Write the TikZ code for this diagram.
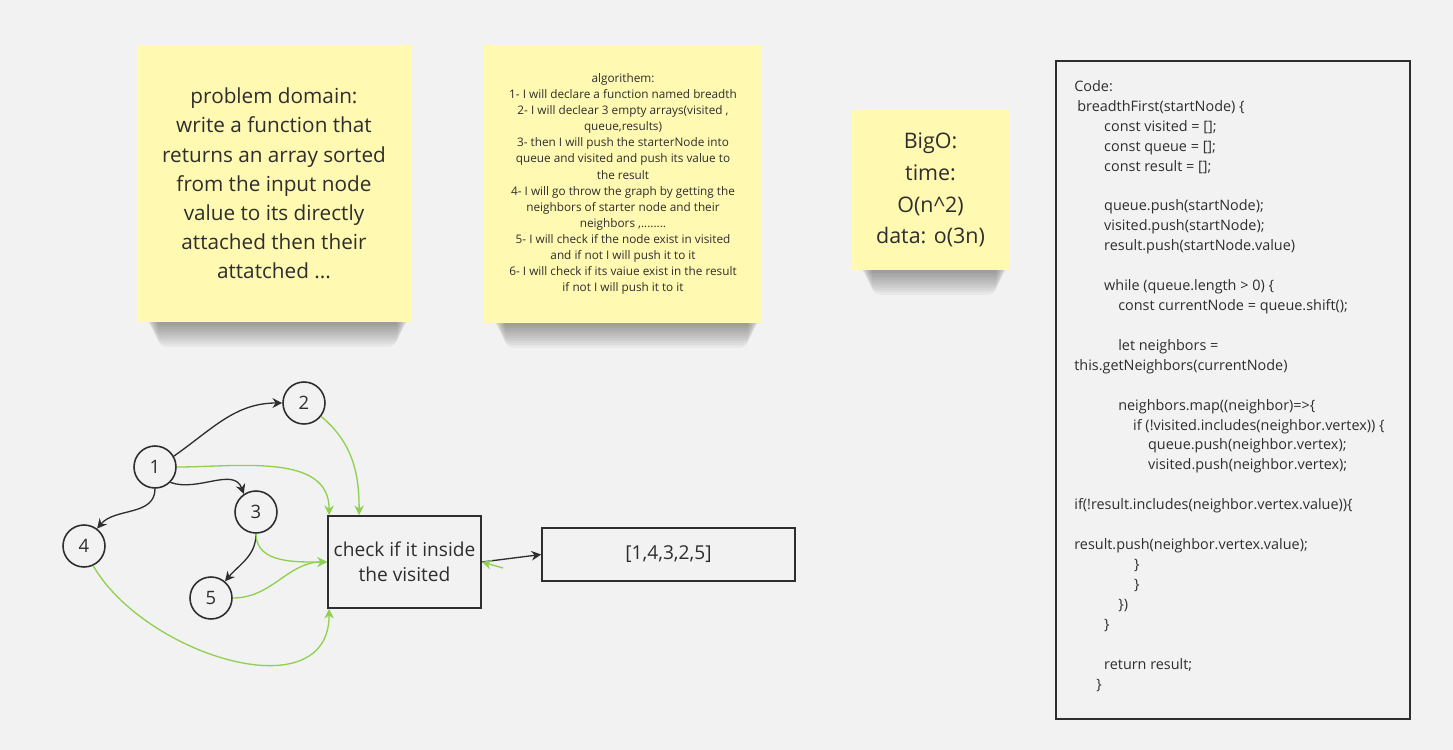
\documentclass[tikz,border=0pt]{standalone}
\usepackage{fontspec}
\setmainfont{Open Sans}
\usetikzlibrary{arrows.meta,backgrounds}
\definecolor{board}{HTML}{F2F2F2}
\definecolor{note}{HTML}{FFF9B1}
\definecolor{ink}{HTML}{2E2E2E}
\definecolor{leaf}{HTML}{8FD14F}

\begin{document}
\begin{tikzpicture}[x=0.02cm, y=-0.02cm,
        sticky/.style={rectangle, fill=note, inner sep=0pt, align=center, text=ink},
        vert/.style={circle, draw=ink, line width=0.9pt, minimum size=0.84cm, inner sep=0pt, font=\fontsize{10.5}{12}\selectfont, text=ink},
        boxed/.style={rectangle, draw=ink, line width=1pt, align=center, text=ink, inner sep=0pt},
        blk/.style={draw=ink, line width=0.75pt, -{Stealth[length=5.5pt,width=5.5pt]}},
        grn/.style={draw=leaf, line width=0.75pt, -{Stealth[length=5.5pt,width=5.5pt]}}
    ]
        \useasboundingbox (0,0) rectangle (1453,750);

        % Sticky notes
        \node[sticky, minimum width=5.48cm, minimum height=5.54cm, font=\fontsize{11.8}{16.6}\selectfont] (dom) at (274,183.5)
            {problem domain:\\write a function that\\returns an array sorted\\from the input node\\value to its directly\\attached then their\\attatched ...};
        \node[sticky, minimum width=5.56cm, minimum height=5.56cm, font=\fontsize{6.7}{9.15}\selectfont] (alg) at (623,184)
            {algorithem:\\1- I will declare a function named breadth\\2- I will declear 3 empty arrays(visited ,\\queue,results)\\3- then I will push the starterNode into\\queue and visited and push its value to\\the result\\4- I will go throw the graph by getting the\\neighbors of starter node and their\\neighbors ,........\\5- I will check if the node exist in visited\\and if not I will push it to it\\6- I will check if its vaiue exist in the result\\if not I will push it to it};
        \node[sticky, minimum width=3.18cm, minimum height=3.2cm, font=\fontsize{12.2}{18.1}\selectfont] (bigo) at (930.5,190)
            {BigO:\\time:\\O(n\textasciicircum2)\\data: o(3n)};

        % Code
        \node[boxed, fill=board, minimum width=7.08cm, minimum height=13.16cm] (codebox) at (1233,390) {};
        \node[anchor=north west, inner sep=0pt, align=left, text=ink, font=\fontsize{8.2}{11.34}\selectfont] (codetxt) at (1074,80)
            {Code:\\
            \hspace*{1.7pt}breadthFirst(startNode) \{\\
            \hspace*{17pt}const visited = [];\\
            \hspace*{17pt}const queue = [];\\
            \hspace*{17pt}const result = [];\\
            \mbox{}\\
            \hspace*{17pt}queue.push(startNode);\\
            \hspace*{17pt}visited.push(startNode);\\
            \hspace*{17pt}result.push(startNode.value)\\
            \mbox{}\\
            \hspace*{17pt}while (queue.length > 0) \{\\
            \hspace*{25pt}const currentNode = queue.shift();\\
            \mbox{}\\
            \hspace*{25pt}let neighbors =\\
            this.getNeighbors(currentNode)\\
            \mbox{}\\
            \hspace*{25pt}neighbors.map((neighbor)=>\{\\
            \hspace*{33.5pt}if (!visited.includes(neighbor.vertex)) \{\\
            \hspace*{42pt}queue.push(neighbor.vertex);\\
            \hspace*{42pt}visited.push(neighbor.vertex);\\
            \mbox{}\\
            if(!result.includes(neighbor.vertex.value))\{\\
            \mbox{}\\
            result.push(neighbor.vertex.value);\\
            \hspace*{34pt}\}\\
            \hspace*{34pt}\}\\
            \hspace*{25pt}\})\\
            \hspace*{17pt}\}\\
            \mbox{}\\
            \hspace*{17pt}return result;\\
            \hspace*{12.5pt}\}};

        % Graph
        \node[vert] (n1) at (155,467) {1};
        \node[vert] (n2) at (304,403) {2};
        \node[vert] (n3) at (256,512) {3};
        \node[vert] (n4) at (84,546) {4};
        \node[vert] (n5) at (211,598) {5};

        \node[boxed, minimum width=3.06cm, minimum height=1.84cm, font=\fontsize{10.9}{14.2}\selectfont] (chk) at (404.5,562) {check if it inside\\the visited};
        \node[boxed, minimum width=5.06cm, minimum height=1.06cm, font=\fontsize{10.9}{12}\selectfont] (res) at (668.5,554.5) {[1,4,3,2,5]};
        \coordinate (stub) at (503,568);

        % Connections
        \draw[blk] (n1.30) to[out=35, in=180] (n2.west);
        \draw[blk] (n1.-45) to[out=-20, in=110] (n3.124);
        \draw[blk] (n1.south) to[out=-90, in=50] (n4.53);
        \draw[blk] (n3.south) to[out=-90, in=50] (n5.50);

        \draw[grn] (n2.-38) to[out=-40, in=90] ([xshift=0.64cm]chk.north west);
        \draw[grn] (n1.east) to[out=0, in=90] ([xshift=0.04cm]chk.north west);
        \draw[grn] (n3.south) to[out=-90, in=180] (chk.west);
        \draw[grn] (n5.east) to[out=0, in=180] (chk.west);
        \draw[grn] (n4.-65) to[out=-60, in=-90, looseness=1.1] ([xshift=0.04cm]chk.south west);

        \draw[blk] (chk.east) -- (res.west);
        \draw[grn] (stub) -- (chk.east);

        % Board and shadows
        \begin{scope}[on background layer]
            \fill[board] (0,0) rectangle (1453,750);
            \foreach \s in {dom,alg,bigo}
                \foreach \k in {1,...,10}
                    \fill[black, opacity=0.04, rounded corners=5pt] ([xshift=5pt+\k*0.7pt, yshift=4pt]\s.south west) rectangle ([xshift=-1pt-\k*0.7pt, yshift=-\k*1.4pt]\s.south east);
        \end{scope}
    \end{tikzpicture}
\end{document}
